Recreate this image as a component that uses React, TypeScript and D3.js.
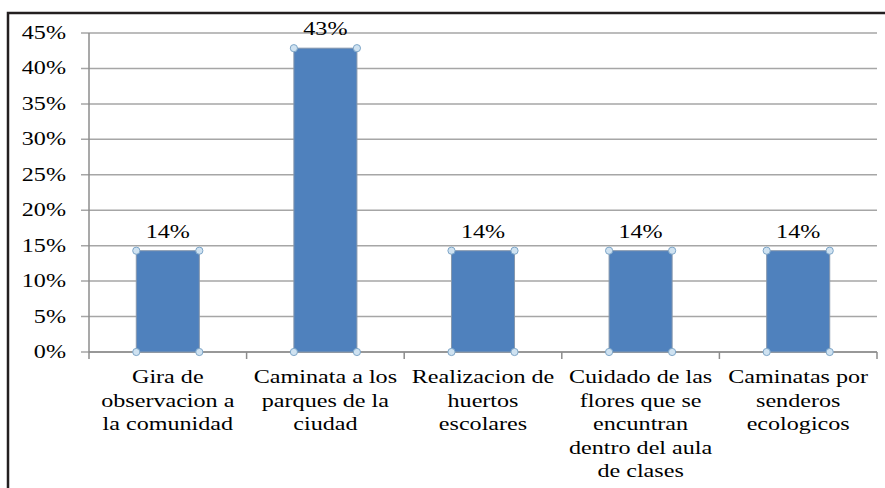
import React from "react";
import * as d3 from "d3";

const categories: string[][] = [
  ["Gira de", "observacion a", "la comunidad"],
  ["Caminata a los", "parques de la", "ciudad"],
  ["Realizacion de", "huertos", "escolares"],
  ["Cuidado de las", "flores que se", "encuntran", "dentro del aula", "de clases"],
  ["Caminatas por", "senderos", "ecologicos"],
];
const values: number[] = [14.29, 42.86, 14.29, 14.29, 14.29];
const valueLabels: string[] = ["14%", "43%", "14%", "14%", "14%"];
const yTicks: number[] = [0, 5, 10, 15, 20, 25, 30, 35, 40, 45];

const W = 885;
const H = 488;
const left = 89;
const right = 877;
const top = 33;
const bottom = 352;
const FONT = "Liberation Serif, Tinos, DejaVu Serif, serif";
const FS = 18;
const SX = 1.34;

export default function App() {
  const x = d3
    .scaleBand<number>()
    .domain(d3.range(values.length))
    .range([left, right])
    .paddingInner(0.6)
    .paddingOuter(0.3);
  const y = d3.scaleLinear().domain([0, 45]).range([bottom, top]);
  const step = x.step();
  const boundaries = d3.range(values.length + 1).map((i) => left + i * step);

  const handle = (cx: number, cy: number, k: string) => (
    <circle key={k} cx={cx} cy={cy} r={3.6} fill="#cfe2f1" stroke="#7ea6c8" strokeWidth={1} />
  );

  const txtStyle = { fontFamily: FONT, fontSize: FS + "px" };

  return (
    <svg
      width={W}
      height={H}
      style={{ position: "absolute", left: 0, top: 0, background: "#fff" }}
    >
      <rect x={0} y={0} width={W} height={H} fill="#fff" />
      <path d={`M8,${H} V13 H${W}`} fill="none" stroke="#231f20" strokeWidth={2.5} />

      {yTicks.map((t) => (
        <line key={"g" + t} x1={81} x2={right} y1={y(t)} y2={y(t)} stroke="#a6a6a6" strokeWidth={1.5} />
      ))}
      <line x1={left} x2={left} y1={top} y2={bottom} stroke="#8c8c8c" strokeWidth={1.5} />
      {boundaries.map((bx, i) => (
        <line key={"xt" + i} x1={bx} x2={bx} y1={bottom} y2={bottom + 7} stroke="#8c8c8c" strokeWidth={1.5} />
      ))}
      <line x1={left} x2={right} y1={bottom} y2={bottom} stroke="#8c8c8c" strokeWidth={1.5} />

      {yTicks.map((t) => (
        <text
          key={"yl" + t}
          transform={`translate(66,${y(t) + 6}) scale(${SX},1)`}
          textAnchor="end"
          style={txtStyle}
          fill="#000"
        >
          {t + "%"}
        </text>
      ))}

      {values.map((v, i) => {
        const bx = x(i)!;
        const bw = x.bandwidth();
        const by = y(v);
        return (
          <g key={"b" + i}>
            <rect x={bx} y={by} width={bw} height={bottom - by} fill="#4f81bd" stroke="#8597ad" strokeWidth={1} />
            {handle(bx, by, "h1")}
            {handle(bx + bw, by, "h2")}
            {handle(bx, bottom, "h3")}
            {handle(bx + bw, bottom, "h4")}
            <text
              transform={`translate(${bx + bw / 2},${by - 13}) scale(${SX},1)`}
              textAnchor="middle"
              style={txtStyle}
              fill="#000"
            >
              {valueLabels[i]}
            </text>
          </g>
        );
      })}

      {categories.map((lines, i) => {
        const cx = x(i)! + x.bandwidth() / 2;
        return (
          <g key={"c" + i}>
            {lines.map((ln, j) => (
              <text
                key={j}
                transform={`translate(${cx},${383 + j * 23.5}) scale(${SX},1)`}
                textAnchor="middle"
                style={txtStyle}
                fill="#000"
              >
                {ln}
              </text>
            ))}
          </g>
        );
      })}
    </svg>
  );
}
